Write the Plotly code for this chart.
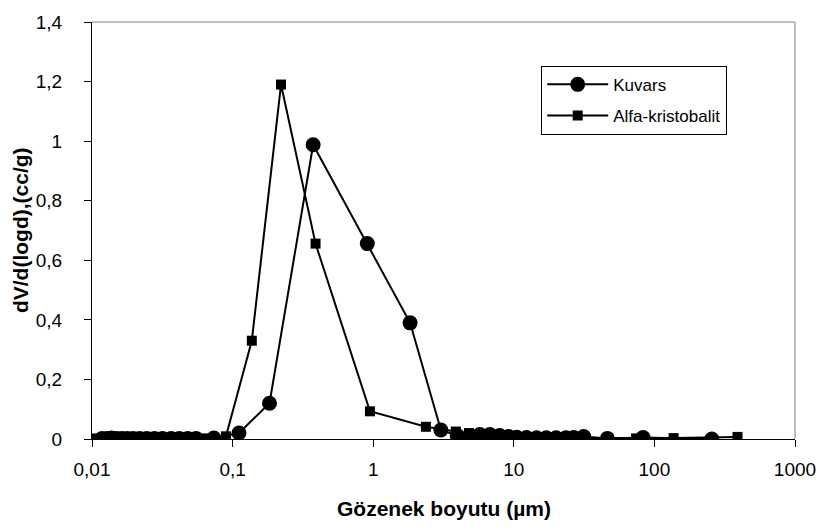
import plotly.graph_objects as go

# Pore size distribution (mercury porosimetry), pore diameter in µm
kuvars_d = [0.0118, 0.0128, 0.0138, 0.015, 0.0163, 0.0178, 0.0196, 0.0218, 0.0245, 0.0278,
            0.0317, 0.0365, 0.0418, 0.048, 0.055, 0.0736, 0.111, 0.183, 0.374, 0.908,
            1.83, 3.03, 3.96, 4.88, 5.74, 6.75, 7.94, 9.19, 10.5, 12.3, 14.5, 17.0,
            20.0, 23.5, 26.7, 31.4, 46.3, 83.0, 256.0]
kuvars_v = [0.002, 0.002, 0.003, 0.002, 0.002, 0.002, 0.002, 0.002, 0.002, 0.002,
            0.002, 0.002, 0.002, 0.002, 0.002, 0.003, 0.02, 0.12, 0.988, 0.656,
            0.39, 0.03, 0.012, 0.01, 0.015, 0.015, 0.012, 0.008, 0.006, 0.005, 0.004, 0.004,
            0.004, 0.004, 0.005, 0.008, 0.002, 0.005, 0.0]

alfa_d = [0.0102, 0.0108, 0.0115, 0.0125, 0.014, 0.016, 0.018, 0.02, 0.023, 0.026,
          0.03, 0.035, 0.04, 0.047, 0.055, 0.065, 0.0897, 0.137, 0.221, 0.389,
          0.948, 2.37, 3.87, 4.8, 6.0, 7.5, 9.0, 11.0, 14.0, 18.0, 23.0, 28.0,
          74.0, 137.0, 390.0]
alfa_v = [0.001, 0.001, 0.001, 0.001, 0.001, 0.001, 0.001, 0.001, 0.001, 0.001,
          0.001, 0.001, 0.001, 0.001, 0.001, 0.002, 0.009, 0.33, 1.19, 0.656,
          0.093, 0.041, 0.025, 0.02, 0.012, 0.01, 0.008, 0.006, 0.005, 0.004, 0.003, 0.003,
          0.002, 0.003, 0.007]

x_tickvals = [0.01, 0.1, 1, 10, 100, 1000]
x_ticktext = ["0,01", "0,1", "1", "10", "100", "1000"]

x_title = "Gözenek boyutu (µm)"
y_title = "dV/d(logd),(cc/g)"

font = "Liberation Sans, Arial, sans-serif"

fig = go.Figure()
fig.add_trace(go.Scatter(
    x=kuvars_d, y=kuvars_v, name="Kuvars", mode="lines+markers", legendgroup="k",
    line=dict(color="black", width=2),
    marker=dict(symbol="circle", size=15, color="black"),
))
fig.add_trace(go.Scatter(
    x=alfa_d, y=alfa_v, name="Alfa-kristobalit", mode="lines+markers", legendgroup="a",
    line=dict(color="black", width=2),
    marker=dict(symbol="square", size=10, color="black"),
))

fig.update_layout(
    width=828, height=531,
    margin=dict(l=92, r=27, t=14, b=92),
    paper_bgcolor="white", plot_bgcolor="white",
    separators=",.",
    font=dict(family=font, size=19, color="black"),
    showlegend=True,
    legend=dict(
        x=0.639, y=0.895, xanchor="left", yanchor="top",
        bgcolor="white", bordercolor="black", borderwidth=1,
        font=dict(family=font, size=17, color="black"),
        tracegroupgap=6, itemwidth=61,
    ),
    xaxis=dict(
        type="log", range=[-2, 3],
        tickvals=x_tickvals, ticktext=x_ticktext,
        ticks="outside", ticklen=7, tickcolor="black", tickwidth=1,
        ticklabelstandoff=6,
        showline=True, linecolor="black", linewidth=1,
        showgrid=False, zeroline=False,
        tickfont=dict(family=font, size=19, color="black"),
    ),
    yaxis=dict(
        range=[0, 1.4], dtick=0.2, tick0=0,
        ticks="outside", ticklen=7, tickcolor="black", tickwidth=1,
        ticklabelstandoff=18,
        showline=True, linecolor="black", linewidth=1,
        showgrid=False, zeroline=False,
        tickfont=dict(family=font, size=19, color="black"),
    ),
    annotations=[
        dict(text="<b>" + x_title + "</b>", xref="paper", yref="paper",
             x=0.5, y=-0.166, xanchor="center", yanchor="middle", showarrow=False,
             font=dict(family=font, size=21, color="black")),
        dict(text="<b>" + y_title + "</b>", xref="paper", yref="paper",
             x=-0.1016, y=0.5, xanchor="center", yanchor="middle", showarrow=False,
             textangle=-90, font=dict(family=font, size=21, color="black")),
    ],
)

# Light frame closing the plot area on the top and right
fig.add_shape(type="line", xref="paper", yref="paper", x0=0, x1=1, y0=1, y1=1,
              line=dict(color="#808080", width=1), layer="below")
fig.add_shape(type="line", xref="paper", yref="paper", x0=1, x1=1, y0=0, y1=1,
              line=dict(color="#808080", width=1), layer="below")

fig.write_html("out.html")
